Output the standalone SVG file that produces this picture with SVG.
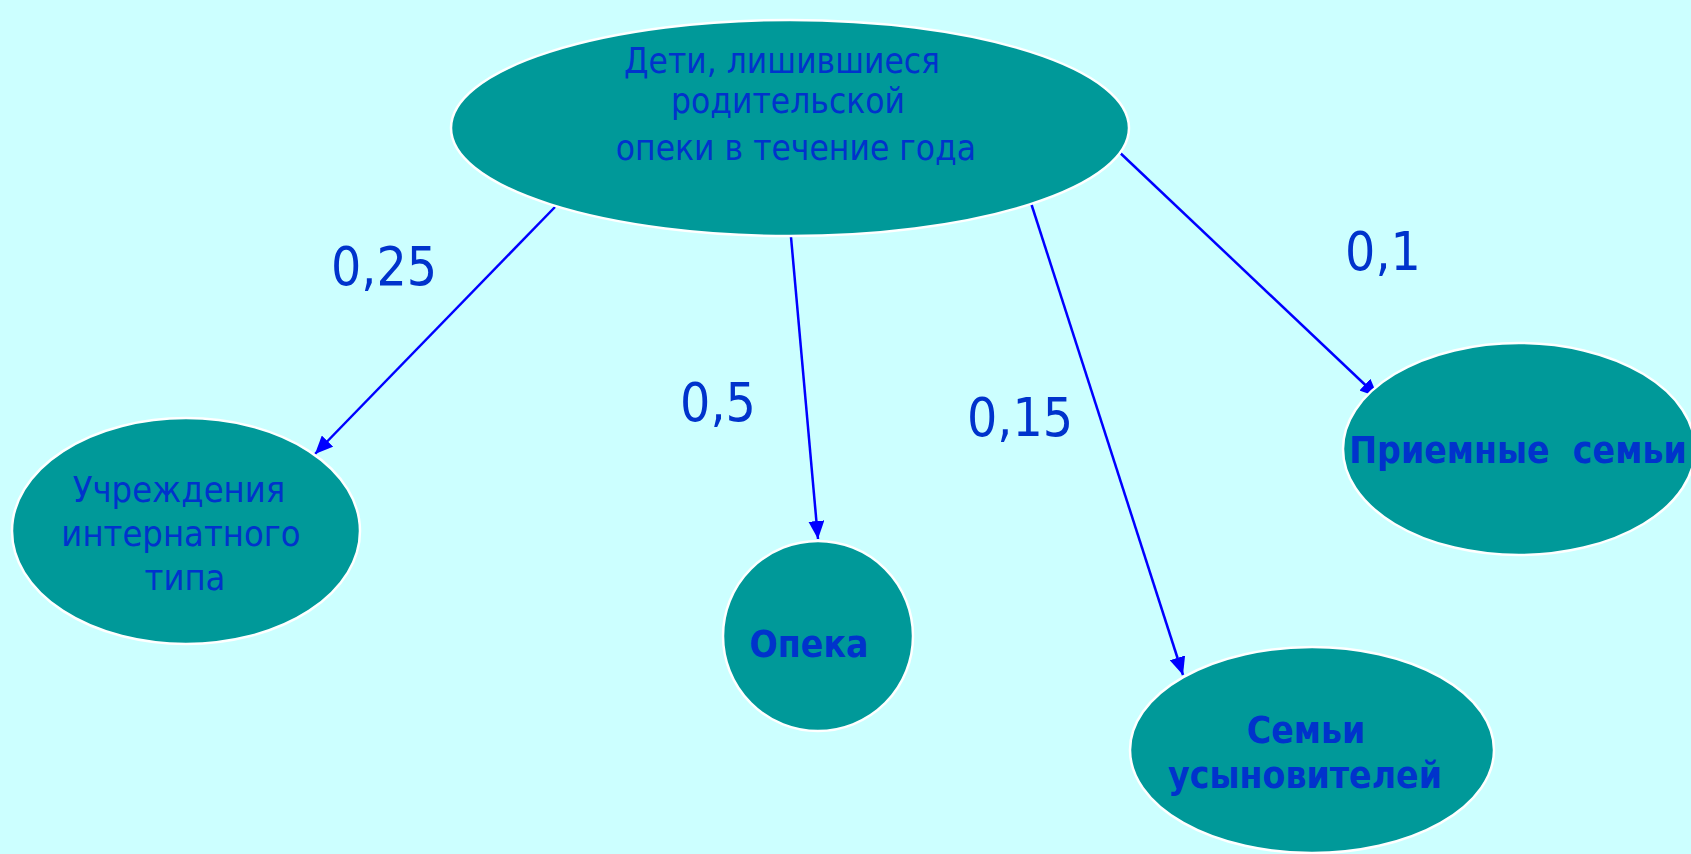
<svg xmlns="http://www.w3.org/2000/svg" width="1691" height="854" viewBox="0 0 1691 854">
<style>
.node{fill:#009999;stroke:#FFFFFF;stroke-width:2.5}
.t{font-family:"DejaVu Sans Condensed","DejaVu Sans",sans-serif;font-stretch:condensed;fill:#0033CC;text-anchor:middle;white-space:pre}
.r{font-size:35px}
.r2{font-size:36px}
.b{font-size:37px;font-weight:bold}
.lbl{font-size:53px}
.edge{stroke:#0000FF;stroke-width:2.5;fill:none;marker-end:url(#arr)}
</style>
<defs>
<marker id="arr" markerUnits="userSpaceOnUse" markerWidth="19" markerHeight="16" refX="18" refY="8" orient="auto">
<path d="M0,0 L18,8 L0,16 Z" fill="#0000FF"/>
</marker>
</defs>
<rect width="1691" height="854" fill="#CCFFFF"/>
<g id="connectors">
<line class="edge" x1="555" y1="207" x2="315" y2="454"/>
<line class="edge" x1="791" y1="237" x2="818" y2="539"/>
<line class="edge" x1="1031" y1="203" x2="1183" y2="675"/>
<line class="edge" x1="1116" y1="149" x2="1378" y2="397"/>
</g>
<g id="labels">
<text class="t lbl" x="384" y="285">0,25</text>
<text class="t lbl" x="718" y="421">0,5</text>
<text class="t lbl" x="1020" y="436">0,15</text>
<text class="t lbl" x="1383" y="270">0,1</text>
</g>
<g id="node-root">
<ellipse class="node" cx="790" cy="128" rx="339" ry="108"/>
<text class="t r" x="782" y="73">Дети, лишившиеся</text>
<text class="t r" x="788" y="113">родительской</text>
<text class="t r" x="796" y="160">опеки в течение года</text>
</g>
<g id="node-institutions">
<ellipse class="node" cx="186" cy="531" rx="174" ry="113"/>
<text class="t r2" x="179" y="502">Учреждения</text>
<text class="t r2" x="181" y="546">интернатного</text>
<text class="t r2" x="185" y="590">типа</text>
</g>
<g id="node-guardianship">
<circle class="node" cx="818" cy="636" r="95"/>
<text class="t b" x="809" y="657">Опека</text>
</g>
<g id="node-adoptive">
<ellipse class="node" cx="1312" cy="750" rx="182" ry="103"/>
<text class="t b" x="1306" y="743">Семьи</text>
<text class="t b" x="1305" y="788">усыновителей</text>
</g>
<g id="node-foster">
<ellipse class="node" cx="1519" cy="449" rx="176" ry="106"/>
<text class="t b" x="1518" y="463">Приемные  семьи</text>
</g>
</svg>
